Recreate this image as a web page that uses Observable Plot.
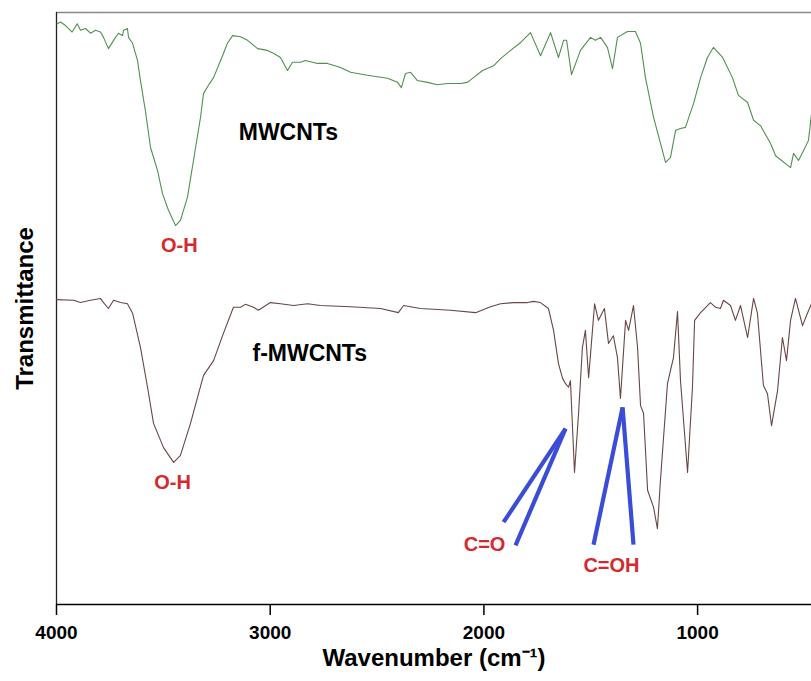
<!DOCTYPE html>
<html>
<head>
<meta charset="utf-8">
<script src="https://cdn.jsdelivr.net/npm/d3@7"></script>
<script src="https://cdn.jsdelivr.net/npm/@observablehq/plot@0.6"></script>
<style>
  html, body { margin: 0; padding: 0; background: #fff; }
  #chart svg { display: block; font-family: "Liberation Sans", Arial, sans-serif; }
</style>
</head>
<body>
<div id="chart"></div>
<script>
// MWCNTs spectrum (wavenumber cm-1, transmittance a.u.)
const mwcntWn = [3997,3981,3958,3927,3903,3888,3864,3841,3817,3794,3780,3757,3738,3724,3710,3691,3686,3668,3663,3644,3621,3607,3584,3560,3527,3504,3476,3443,3420,3387,3359,3326,3312,3289,3265,3223,3200,3176,3139,3106,3059,3013,2985,2952,2919,2896,2858,2835,2779,2732,2671,2624,2545,2451,2404,2386,2367,2343,2311,2264,2217,2170,2109,2077,2049,2006,1955,1922,1875,1829,1782,1735,1688,1651,1627,1613,1590,1548,1501,1478,1454,1422,1398,1375,1328,1291,1267,1244,1206,1150,1127,1103,1080,1057,1019,986,954,926,883,837,809,766,738,706,659,635,565,551,528,504,481,467,448];
const mwcntT = [98.1,98.4,97.8,96.7,98.1,97.0,97.3,96.5,97.0,96.7,95.8,93.9,95.0,95.8,96.5,96.1,97.0,97.3,95.8,94.8,91.9,88.5,83.4,77.2,73.3,69.4,66.6,64.0,64.9,68.8,75.0,82.3,86.3,87.7,89.0,92.7,94.8,96.1,95.9,95.3,93.9,93.6,93.1,92.4,90.2,91.6,91.6,91.9,91.4,91.4,90.7,89.9,89.4,88.9,88.2,87.3,89.7,89.9,88.5,88.2,87.8,88.0,88.0,88.2,89.0,90.2,91.0,92.2,93.6,94.9,96.6,92.7,96.6,92.4,95.3,95.3,89.5,93.6,95.8,95.3,95.8,94.1,90.5,95.8,96.8,96.8,94.8,89.0,82.3,74.7,75.5,80.1,80.4,80.6,84.6,89.0,92.4,94.1,92.4,89.0,86.0,84.8,81.8,80.9,77.9,75.8,73.8,76.2,75.0,76.7,78.4,82.9,85.1];

// f-MWCNTs spectrum
const fmwcntWn = [4000,3920,3888,3841,3794,3780,3757,3733,3700,3668,3644,3607,3574,3546,3499,3452,3420,3373,3340,3312,3265,3219,3172,3139,3116,3078,3055,2999,2952,2891,2825,2765,2624,2484,2400,2376,2297,2156,2039,1969,1922,1861,1796,1768,1735,1698,1674,1651,1632,1618,1604,1595,1576,1557,1539,1525,1510,1492,1482,1464,1436,1417,1394,1375,1361,1337,1323,1300,1281,1267,1253,1234,1206,1188,1174,1141,1113,1094,1080,1047,1024,1014,986,940,916,893,879,846,823,799,766,738,720,692,673,654,626,603,584,565,542,509,486,467];
const fmwcntT = [51.5,51.4,51.0,51.4,51.7,51.0,50.0,51.4,51.0,50.8,49.2,43.4,36.7,30.6,26.5,24.0,25.2,30.6,35.0,38.7,41.2,45.8,50.2,50.2,50.7,50.2,49.7,51.0,50.8,50.5,50.8,50.5,50.3,50.0,49.3,50.5,50.0,49.7,49.3,50.3,50.8,51.0,51.0,51.2,51.0,50.0,46.3,40.7,38.2,37.3,36.7,37.8,22.3,32.3,43.4,46.3,38.3,46.3,50.8,48.0,50.0,44.1,45.4,41.7,34.8,48.0,46.3,50.5,43.4,33.6,32.3,19.3,16.4,12.8,20.9,37.3,41.7,49.5,37.8,22.3,36.7,48.0,49.3,51.0,50.2,50.0,51.4,50.5,48.0,50.5,45.1,51.7,49.2,37.0,35.6,30.2,36.1,45.1,41.2,48.0,51.7,47.1,49.2,50.8];

// Annotation pointer lines (from band to label)
const arrowX1 = [1618,1618,1351,1351];
const arrowY1 = [29.7,29.7,33.3,33.3];
const arrowX2 = [1908,1852,1487,1300];
const arrowY2 = [13.9,10.0,10.1,10.1];

// Red band labels
const bandText = ["O-H","O-H","C=O","C=OH"];
const bandX = [3425,3457,1997,1403];
const bandY = [60.6,20.6,10.1,6.6];

// Series labels
const seriesText = ["MWCNTs","f-MWCNTs"];
const seriesX = [2915,2815];
const seriesY = [79.7,42.4];

const xTicks = [4000,3000,2000,1000];

const mwcnt = mwcntWn.map((w,i)=>({w, t: mwcntT[i]}));
const fmwcnt = fmwcntWn.map((w,i)=>({w, t: fmwcntT[i]}));
const arrows = arrowX1.map((x,i)=>({x1:x, y1:arrowY1[i], x2:arrowX2[i], y2:arrowY2[i]}));
const bands = bandText.map((s,i)=>({s, x:bandX[i], y:bandY[i]}));
const series = seriesText.map((s,i)=>({s, x:seriesX[i], y:seriesY[i]}));

const chart = Plot.plot({
  width: 811,
  height: 681,
  marginLeft: 56,
  marginRight: 0,
  marginTop: 12,
  marginBottom: 77,
  style: {fontFamily: '"Liberation Sans", Arial, sans-serif', color: "#000", background: "#fff"},
  x: {domain: [4000, 467]},
  y: {domain: [0, 100]},
  marks: [
    Plot.ruleY([100], {stroke: "#8a8a8a", strokeWidth: 1.5}),
    Plot.ruleX([4000], {stroke: "#222", strokeWidth: 1.3}),
    Plot.ruleY([0], {stroke: "#000", strokeWidth: 1.5}),
    Plot.axisX({ticks: xTicks, tickSize: 11, tickPadding: 10, fontSize: 19, fontWeight: "bold", tickFormat: d => String(d), label: null, strokeWidth: 1.5}),
    Plot.axisY({ticks: [], label: null}),
    Plot.line(mwcnt, {x: "w", y: "t", stroke: "#528f52", strokeWidth: 1.1, clip: true}),
    Plot.line(fmwcnt, {x: "w", y: "t", stroke: "#6a4545", strokeWidth: 1.1, clip: true}),
    Plot.link(arrows, {x1: "x1", y1: "y1", x2: "x2", y2: "y2", stroke: "#3b4cd6", strokeWidth: 4.2}),
    Plot.text(bands, {x: "x", y: "y", text: "s", fill: "#d42a2e", fontSize: 20, fontWeight: "bold"}),
    Plot.text(series, {x: "x", y: "y", text: "s", fill: "#000", fontSize: 23, fontWeight: "bold"}),
    Plot.text(["Transmittance"], {frameAnchor: "left", textAnchor: "middle", dx: -31, rotate: -90, fontSize: 24, fontWeight: "bold", fill: "#000"}),
    Plot.text(["Wavenumber (cm\u207B\u00B9)"], {frameAnchor: "bottom", dy: 61, fontSize: 24, fontWeight: "bold", fill: "#000"})
  ]
});
document.getElementById("chart").appendChild(chart);
</script>
</body>
</html>
